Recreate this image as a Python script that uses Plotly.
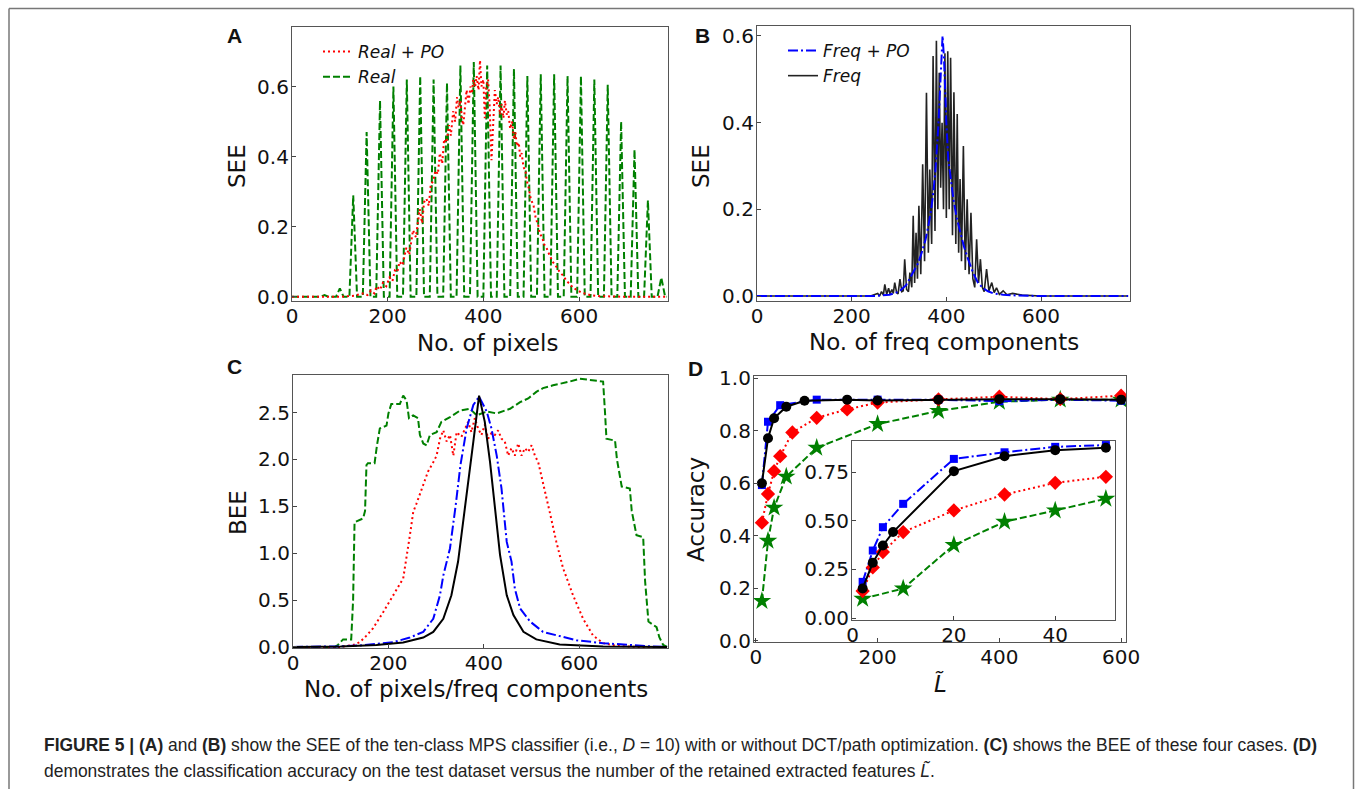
import plotly.graph_objects as go

W, H = 1355, 789

# ---------------- Panel A : SEE in real space ----------------
real_x = [0, 60, 68, 76, 92, 100, 108,
          120, 128, 136, 148, 156, 164, 176, 184, 192, 204, 212, 220,
          232, 240, 248, 260, 268, 276, 288, 296, 304, 316, 324, 332,
          344, 352, 360, 372, 380, 388, 400, 408, 416, 428, 436, 444,
          456, 464, 472, 484, 492, 500, 512, 520, 528, 540, 548, 556,
          568, 576, 584, 596, 604, 612, 624, 632, 640, 652, 660, 668,
          680, 688, 696, 708, 716, 724, 736, 744, 752, 764, 772, 780,
          784]
real_y = [0, 0, 0.005, 0, 0, 0.024, 0,
          0, 0.29, 0, 0, 0.47, 0, 0, 0.56, 0, 0, 0.60, 0,
          0, 0.62, 0, 0, 0.63, 0, 0, 0.62, 0, 0, 0.61, 0,
          0, 0.66, 0, 0, 0.67, 0, 0, 0.66, 0, 0, 0.66, 0,
          0, 0.65, 0, 0, 0.63, 0, 0, 0.635, 0, 0, 0.635, 0,
          0, 0.63, 0, 0, 0.63, 0, 0, 0.62, 0, 0, 0.605, 0,
          0, 0.50, 0, 0, 0.42, 0, 0, 0.275, 0, 0, 0.055, 0,
          0]

realpo_x = [0, 100, 130, 150, 158, 165, 172, 177, 184, 190,
            197, 204, 210, 215, 220, 225, 231, 239, 245, 253,
            259, 267, 272, 276, 281, 286, 290, 295, 300, 305,
            309, 314, 318, 323, 328, 332, 337, 341, 345, 348,
            352, 355, 358, 362, 365, 369, 373, 376, 379, 383,
            386, 390, 393, 396, 400, 403, 406, 410, 413, 417,
            420, 424, 428, 431, 435, 438, 442, 445, 449, 452,
            456, 460, 464, 467, 470, 474, 477, 480, 484, 488,
            491, 495, 499, 505, 510, 514, 518, 523, 527, 532,
            538, 545, 553, 560, 567, 574, 582, 588, 595, 605,
            615, 623, 640, 700, 784]
realpo_y = [0, 0, 0.003, 0.01, 0.005, 0.018, 0.01, 0.03, 0.02, 0.04,
            0.03, 0.055, 0.045, 0.075, 0.07, 0.10, 0.09, 0.14, 0.12, 0.19,
            0.17, 0.25, 0.21, 0.27, 0.28, 0.26, 0.32, 0.33, 0.36, 0.35,
            0.41, 0.38, 0.45, 0.44, 0.49, 0.46, 0.53, 0.50, 0.57, 0.54,
            0.56, 0.51, 0.49, 0.56, 0.59, 0.55, 0.60, 0.58, 0.62, 0.60,
            0.63, 0.59, 0.675, 0.60, 0.62, 0.51, 0.60, 0.62, 0.55, 0.39,
            0.50, 0.59, 0.55, 0.57, 0.52, 0.55, 0.51, 0.56, 0.52, 0.53,
            0.48, 0.50, 0.45, 0.47, 0.43, 0.44, 0.40, 0.41, 0.37, 0.36,
            0.33, 0.31, 0.28, 0.26, 0.22, 0.21, 0.18, 0.17, 0.15, 0.14,
            0.12, 0.10, 0.085, 0.07, 0.06, 0.045, 0.035, 0.025, 0.02, 0.012,
            0.008, 0.005, 0.002, 0, 0]

# ---------------- Panel B : SEE in frequency space ----------------
freqpo_x = [0, 250, 280, 300, 315, 330, 340, 348, 356, 362,
            368, 372.5, 377, 383, 388, 392, 395, 397, 400, 404,
            409, 415, 422, 429, 437, 446, 456, 467, 478, 488,
            500, 520, 550, 600, 784]
freqpo_y = [0, 0, 0.003, 0.01, 0.025, 0.054, 0.075, 0.10, 0.13, 0.162,
            0.20, 0.239, 0.29, 0.39, 0.50, 0.60, 0.55, 0.485, 0.40, 0.316,
            0.27, 0.223, 0.18, 0.146, 0.115, 0.085, 0.055, 0.03, 0.018, 0.011,
            0.006, 0.003, 0.001, 0, 0]

freq_x = [0, 240, 255, 259, 263, 267, 270, 274, 278, 281,
          285, 288, 291, 295, 298, 302, 306, 309, 312, 316,
          320, 323, 327, 330, 333, 336, 339, 342, 346, 350,
          354, 358, 362, 365, 369, 372, 376, 379, 382, 385,
          388, 391, 394, 397, 400, 403, 406, 409, 413, 416,
          420, 423, 426, 429, 432, 436, 440, 444, 448, 452,
          456, 460, 464, 468, 472, 476, 480, 485, 490, 496,
          501, 506, 512, 520, 528, 540, 560, 600, 784]
freq_y = [0, 0, 0.006, 0.0, 0.01, 0.002, 0.027, 0.004, 0.018, 0.005,
          0.015, 0.006, 0.031, 0.008, 0.005, 0.039, 0.01, 0.012, 0.085, 0.015,
          0.01, 0.054, 0.02, 0.185, 0.03, 0.146, 0.04, 0.208, 0.05, 0.304,
          0.08, 0.469, 0.10, 0.292, 0.12, 0.554, 0.15, 0.589, 0.20, 0.515,
          0.25, 0.40, 0.20, 0.56, 0.18, 0.565, 0.20, 0.55, 0.14, 0.47,
          0.12, 0.42, 0.10, 0.27, 0.08, 0.346, 0.06, 0.223, 0.05, 0.192,
          0.04, 0.02, 0.131, 0.03, 0.085, 0.02, 0.01, 0.062, 0.012, 0.031,
          0.008, 0.019, 0.004, 0.012, 0.003, 0.006, 0.002, 0, 0]

# ---------------- Panel C : BEE of the four cases ----------------
bee_real_x = [0, 88, 94, 105, 122, 126, 129, 147, 151, 154,
              157, 171, 176, 182, 196, 200, 206, 224, 231, 238,
              243, 252, 262, 266, 273, 280, 287, 301, 311, 329,
              350, 371, 385, 406, 427, 455, 476, 493, 510, 524,
              545, 566, 580, 601, 622, 650, 654, 657, 675, 679,
              689, 706, 710, 720, 734, 738, 745, 762, 768, 776,
              784]
bee_real_y = [0, 0, 0.02, 0.08, 0.08, 0.5, 1.33, 1.37, 1.45, 1.94,
              1.96, 1.96, 2.15, 2.33, 2.36, 2.49, 2.59, 2.59, 2.68, 2.63,
              2.44, 2.47, 2.44, 2.26, 2.17, 2.15, 2.26, 2.29, 2.40, 2.45,
              2.52, 2.54, 2.47, 2.51, 2.49, 2.54, 2.61, 2.65, 2.72, 2.76,
              2.79, 2.81, 2.83, 2.86, 2.85, 2.83, 2.50, 2.22, 2.20, 2.00,
              1.71, 1.69, 1.45, 1.19, 1.17, 0.70, 0.27, 0.21, 0.10, 0.02,
              0]

bee_realpo_x = [0, 100, 126, 140, 154, 168, 189, 210, 220, 231,
                245, 252, 259, 273, 283, 294, 301, 308, 315, 322,
                329, 336, 343, 353, 360, 367, 374, 381, 388, 395,
                402, 409, 416, 423, 430, 437, 444, 451, 458, 465,
                472, 479, 486, 493, 500, 507, 514, 524, 538, 552,
                566, 587, 608, 629, 650, 680, 720, 784]
bee_realpo_y = [0, 0, 0.02, 0.05, 0.12, 0.20, 0.37, 0.55, 0.64, 0.73,
                1.19, 1.44, 1.53, 1.72, 1.87, 1.97, 2.04, 2.22, 2.31, 2.19,
                2.26, 2.04, 2.29, 2.24, 2.33, 2.40, 2.29, 2.44, 2.33, 2.26,
                2.37, 2.22, 2.28, 2.26, 2.31, 2.22, 2.19, 2.04, 2.12, 2.04,
                2.17, 2.04, 2.12, 2.08, 2.15, 2.04, 1.97, 1.76, 1.44, 1.12,
                0.84, 0.55, 0.30, 0.12, 0.04, 0.01, 0, 0]

bee_freqpo_x = [0, 100, 140, 210, 245, 273, 294, 308, 315, 329,
                341, 351, 364, 378, 390, 406, 416, 427, 437, 448,
                458, 465, 476, 497, 524, 594, 650, 700, 750, 784]
bee_freqpo_y = [0, 0.005, 0.015, 0.05, 0.10, 0.16, 0.30, 0.55, 0.76, 1.05,
                1.51, 1.94, 2.33, 2.58, 2.67, 2.51, 2.33, 2.04, 1.69, 1.12,
                0.91, 0.62, 0.41, 0.27, 0.16, 0.07, 0.04, 0.02, 0.005, 0]

bee_freq_x = [0, 100, 175, 231, 273, 294, 315, 332, 346, 357,
              367, 378, 390, 402, 413, 423, 434, 448, 462, 483,
              510, 559, 650, 784]
bee_freq_y = [0, 0.003, 0.02, 0.046, 0.10, 0.16, 0.30, 0.55, 0.91, 1.33,
              1.76, 2.19, 2.68, 2.40, 1.97, 1.48, 0.98, 0.55, 0.34, 0.16,
              0.08, 0.025, 0.005, 0]

# ---------------- Panel D : accuracy vs retained features ----------------
acc_freqpo_x = [10, 20, 40, 100, 200, 300, 400, 500, 600]
acc_freqpo_y = [0.593, 0.834, 0.897, 0.918, 0.918, 0.918, 0.912, 0.918, 0.914]
acc_freq_x = [10, 20, 30, 50, 80, 150, 200, 300, 400, 500, 600]
acc_freq_y = [0.60, 0.771, 0.847, 0.891, 0.914, 0.918, 0.915, 0.918, 0.92, 0.92, 0.918]
acc_realpo_x = [10, 20, 30, 40, 60, 100, 150, 200, 300, 400, 500, 600]
acc_realpo_y = [0.45, 0.559, 0.646, 0.703, 0.793, 0.849, 0.881, 0.907, 0.919, 0.929, 0.92, 0.933]
acc_real_x = [10, 20, 30, 50, 100, 200, 300, 400, 500, 600]
acc_real_y = [0.152, 0.381, 0.507, 0.625, 0.735, 0.825, 0.875, 0.91, 0.918, 0.918]

ins_freqpo_x = [2, 4, 6, 10, 20, 30, 40, 50]
ins_freqpo_y = [0.186, 0.347, 0.467, 0.587, 0.818, 0.852, 0.88, 0.889]
ins_freq_x = [2, 4, 6, 8, 20, 30, 40, 50]
ins_freq_y = [0.152, 0.284, 0.373, 0.442, 0.755, 0.832, 0.863, 0.875]
ins_realpo_x = [2, 4, 6, 10, 20, 30, 40, 50]
ins_realpo_y = [0.139, 0.26, 0.339, 0.442, 0.553, 0.635, 0.695, 0.726]
ins_real_x = [2, 10, 20, 30, 40, 50]
ins_real_y = [0.099, 0.152, 0.375, 0.495, 0.553, 0.613]

# ---------------- styles ----------------
RED, GREEN, BLUE, BLACK = "#ff0000", "#008000", "#0000ff", "#000000"
DASH, DOT, DASHDOT = "7px,3px", "2px,3px", "10px,3px,2px,3px"
FONT = "DejaVu Sans"

fig = go.Figure()


def line(x, y, color, dash, xa, ya, name=None, legend=None, width=2):
    fig.add_trace(go.Scatter(
        x=x, y=y, mode="lines", name=name, legendgroup=name,
        line=dict(color=color, dash=dash, width=width),
        xaxis=xa, yaxis=ya, showlegend=name is not None,
        legend=legend if legend else "legend"))


def marked(x, y, color, dash, symbol, size, xa, ya):
    fig.add_trace(go.Scatter(
        x=x, y=y, mode="lines+markers",
        line=dict(color=color, dash=dash, width=2),
        marker=dict(symbol=symbol, size=size, color=color),
        xaxis=xa, yaxis=ya, showlegend=False))


# A
line(real_x, real_y, GREEN, DASH, "x", "y", "Real", "legend")
line(realpo_x, realpo_y, RED, DOT, "x", "y", "Real + PO", "legend")
# B
line(freq_x, freq_y, "#222222", "solid", "x2", "y2", "Freq", "legend2", width=1.6)
line(freqpo_x, freqpo_y, BLUE, DASHDOT, "x2", "y2", "Freq + PO", "legend2")
# C
line(bee_real_x, bee_real_y, GREEN, DASH, "x3", "y3")
line(bee_realpo_x, bee_realpo_y, RED, DOT, "x3", "y3")
line(bee_freqpo_x, bee_freqpo_y, BLUE, DASHDOT, "x3", "y3")
line(bee_freq_x, bee_freq_y, BLACK, "solid", "x3", "y3")
# D main
marked(acc_real_x, acc_real_y, GREEN, DASH, "star", 14, "x4", "y4")
marked(acc_freqpo_x, acc_freqpo_y, BLUE, DASHDOT, "square", 8, "x4", "y4")
marked(acc_realpo_x, acc_realpo_y, RED, DOT, "diamond", 11, "x4", "y4")
marked(acc_freq_x, acc_freq_y, BLACK, "solid", "circle", 10, "x4", "y4")
# D inset
marked(ins_real_x, ins_real_y, GREEN, DASH, "star", 14, "x5", "y5")
marked(ins_freqpo_x, ins_freqpo_y, BLUE, DASHDOT, "square", 8, "x5", "y5")
marked(ins_realpo_x, ins_realpo_y, RED, DOT, "diamond", 11, "x5", "y5")
marked(ins_freq_x, ins_freq_y, BLACK, "solid", "circle", 10, "x5", "y5")


def dom_x(a, b):
    return [a / W, b / W]


def dom_y(top, bottom):
    return [1 - bottom / H, 1 - top / H]


common = dict(showgrid=False, zeroline=False, showline=True, mirror=True, automargin=False,
              linecolor="#555555", linewidth=1.2, ticks="inside", ticklen=4,
              tickcolor="#444444", tickfont=dict(family=FONT, size=20, color="#111111"))

panels = {
    # name: (xdomain px, ydomain px, xrange, yrange, xticks, yticks, yfmt)
    "1": ((292, 668), (27, 301), [0, 786], [-0.012, 0.77], [0, 200, 400, 600], [0, 0.2, 0.4, 0.6], ".1f"),
    "2": ((757, 1130), (26, 301), [0, 788], [-0.0115, 0.623], [0, 200, 400, 600], [0, 0.2, 0.4, 0.6], ".1f"),
    "3": ((293, 668), (375, 648), [0, 786], [-0.012, 2.9], [0, 200, 400, 600], [0, 0.5, 1.0, 1.5, 2.0, 2.5], ".1f"),
    "4": ((754, 1126), (376, 642), [-3, 608], [-0.004, 1.008], [0, 200, 400, 600], [0, 0.2, 0.4, 0.6, 0.8, 1.0], ".1f"),
    "5": ((852, 1115), (441, 620), [-0.1, 51.8], [-0.01, 0.91], [0, 20, 40], [0, 0.25, 0.5, 0.75], ".2f"),
}

lay = {}
for k, (xd, yd, xr, yr, xt, yt, fmt) in panels.items():
    xa = "xaxis" if k == "1" else "xaxis" + k
    ya = "yaxis" if k == "1" else "yaxis" + k
    anchor_x = "x" if k == "1" else "x" + k
    anchor_y = "y" if k == "1" else "y" + k
    lay[xa] = dict(common, domain=dom_x(*xd), range=xr, tickvals=xt, anchor=anchor_y,
                   ticklabelstandoff=-3)
    lay[ya] = dict(common, domain=dom_y(*yd), range=yr, tickvals=yt, tickformat=fmt, anchor=anchor_x,
                   ticklabelstandoff=-2)
fig.update_layout(**lay)

ann = []


def text(x, y, s, size=23, angle=0, xanchor="center", family=FONT, color="#111111"):
    ann.append(dict(x=x / W, y=1 - y / H, xref="paper", yref="paper", text=s,
                    showarrow=False, xanchor=xanchor, yanchor="middle", textangle=angle,
                    font=dict(family=family, size=size, color=color)))


# panel letters
for s, x, y in [("A", 234, 36), ("B", 702, 35), ("C", 234, 366), ("D", 695, 368)]:
    text(x, y, "<b>%s</b>" % s, size=21, family="Liberation Sans, Arial")

# axis titles
text(487, 343, "No. of pixels")
text(237, 166, "SEE", angle=-90)
text(944, 342, "No. of freq components")
text(701, 166, "SEE", angle=-90)
text(476, 689, "No. of pixels/freq components")
text(238, 513, "BEE", angle=-90)
text(940, 684, "<i>L\u0303</i>")
text(696, 510, "Accuracy", angle=-90)

# caption
CAP = "Liberation Sans, Arial"
text(42, 745, "<b>FIGURE 5 | (A)</b> and <b>(B)</b> show the SEE of the ten-class MPS classifier "
     "(i.e., <i>D</i> = 10) with or without DCT/path optimization. <b>(C)</b> shows the BEE of these "
     "four cases. <b>(D)</b>", size=17.45, xanchor="left", family=CAP, color="#222222")
text(42, 770, "demonstrates the classification accuracy on the test dataset versus the number of the "
     "retained extracted features <i>L\u0303</i>.", size=17.45, xanchor="left", family=CAP, color="#222222")

# outer frame (top, left, right)
frame = dict(type="line", xref="paper", yref="paper", line=dict(color="#777777", width=1.5))
shapes = [
    dict(frame, x0=9 / W, x1=1353.5 / W, y0=1 - 8.5 / H, y1=1 - 8.5 / H),
    dict(frame, x0=9 / W, x1=9 / W, y0=1 - 8.5 / H, y1=0),
    dict(frame, x0=1353.5 / W, x1=1353.5 / W, y0=1 - 8.5 / H, y1=0),
    # white backing of the inset
    dict(type="rect", xref="x5 domain", yref="y5 domain", x0=0, x1=1, y0=0, y1=1,
         fillcolor="white", line=dict(width=0), layer="below"),
]

legend_font = dict(family=FONT, size=17, color="#111111", style="italic")
fig.update_layout(
    width=W, height=H, margin=dict(l=0, r=0, t=0, b=0, autoexpand=False),
    paper_bgcolor="white", plot_bgcolor="rgba(0,0,0,0)",
    annotations=ann, shapes=shapes,
    legend=dict(x=318 / W, y=1 - 34 / H, xanchor="left", yanchor="top", traceorder="reversed",
                bgcolor="rgba(0,0,0,0)", font=legend_font, tracegroupgap=1),
    legend2=dict(x=783 / W, y=1 - 33 / H, xanchor="left", yanchor="top", traceorder="reversed",
                 bgcolor="rgba(0,0,0,0)", font=legend_font, tracegroupgap=4),
)

fig.write_html("out.html", config={"displayModeBar": False},
               post_script="document.body.style.margin='0';document.body.style.overflow='hidden';")
